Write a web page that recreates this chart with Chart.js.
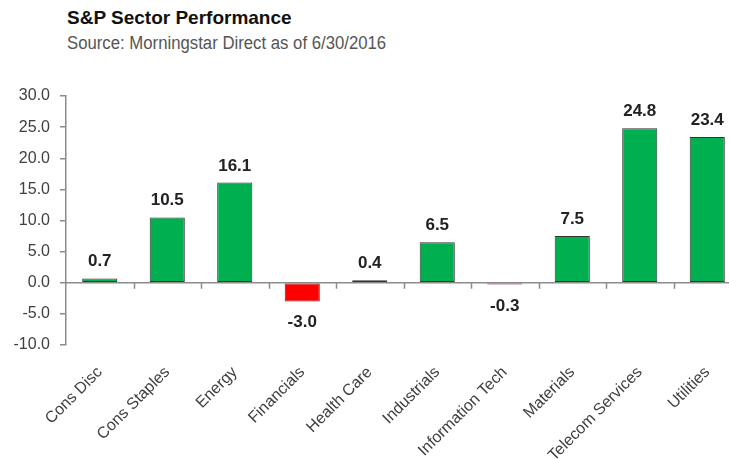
<!DOCTYPE html>
<html>
<head>
<meta charset="utf-8">
<script src="https://cdn.jsdelivr.net/npm/chart.js@4"></script>
<style>
  html, body { margin: 0; padding: 0; background: #fff; overflow: hidden; }
  #wrap { position: relative; width: 745px; height: 459px; }
  #title { position: absolute; left: 67px; top: 7px; font: bold 19px "Liberation Sans", Arial, sans-serif; color: #111; white-space: nowrap; }
  #subtitle { position: absolute; left: 67px; top: 33px; font: 18px "Liberation Sans", Arial, sans-serif; color: #555; white-space: nowrap; transform: scaleX(0.93); transform-origin: left top; }
  canvas { position: absolute; left: 0; top: 0; }
</style>
</head>
<body>
<div id="wrap">
  <div id="title">S&amp;P Sector Performance</div>
  <div id="subtitle">Source: Morningstar Direct as of 6/30/2016</div>
  <canvas id="grafico" width="745" height="459"></canvas>
</div>
<script>
const sectores = ['Cons Disc', 'Cons Staples', 'Energy', 'Financials', 'Health Care',
  'Industrials', 'Information Tech', 'Materials', 'Telecom Services', 'Utilities'];
const rendimiento = [0.7, 10.5, 16.1, -3.0, 0.4, 6.5, -0.3, 7.5, 24.8, 23.4];
const ejeMin = -10;
const ejeMax = 30;
const ejePaso = 5;

// linea del cero y marcas entre categorias
const lineaCero = {
  id: 'lineaCero',
  beforeDatasetsDraw(chart) {
    const { ctx, chartArea, scales } = chart;
    const y0 = scales.y.getPixelForValue(0);
    ctx.save();
    ctx.strokeStyle = '#8c8c8c';
    ctx.lineWidth = 1.5;
    ctx.beginPath();
    ctx.moveTo(chartArea.left, y0);
    ctx.lineTo(chartArea.right, y0);
    for (let i = 0; i < sectores.length - 1; i++) {
      const x = Math.round((scales.x.getPixelForValue(i) + scales.x.getPixelForValue(i + 1)) / 2) + 0.5;
      ctx.moveTo(x, y0);
      ctx.lineTo(x, y0 + 6);
    }
    ctx.stroke();
    ctx.restore();
  }
};

// etiquetas de valor sobre/bajo cada barra
const etiquetas = {
  id: 'etiquetas',
  afterDatasetsDraw(chart) {
    const { ctx } = chart;
    const meta = chart.getDatasetMeta(0);
    ctx.save();
    ctx.font = 'bold 17px "Liberation Sans", Arial, sans-serif';
    ctx.fillStyle = '#222';
    ctx.textAlign = 'center';
    ctx.textBaseline = 'alphabetic';
    meta.data.forEach((bar, i) => {
      const v = rendimiento[i];
      const txt = v.toFixed(1);
      if (v >= 0) {
        ctx.fillText(txt, bar.x, bar.y - 12);
      } else {
        ctx.fillText(txt, bar.x, bar.base + Math.max(bar.y - bar.base, 0) + 26);
      }
    });
    ctx.restore();
  }
};

const ctx = document.getElementById('grafico').getContext('2d');
new Chart(ctx, {
  type: 'bar',
  data: {
    labels: sectores,
    datasets: [{
      data: rendimiento,
      backgroundColor: rendimiento.map(v => v >= 0 ? '#00b050' : '#ff0000'),
      borderColor: rendimiento.map(v => v >= 0 ? '#333333' : '#7a1a1a'),
      borderWidth: 1,
      borderSkipped: false,
      barPercentage: 0.52,
      categoryPercentage: 1
    }]
  },
  options: {
    responsive: false,
    animation: false,
    layout: { padding: { top: 96, right: 4, left: 0, bottom: 0 } },
    plugins: {
      legend: { display: false },
      tooltip: { enabled: false }
    },
    scales: {
      x: {
        grid: { display: false },
        border: { display: false },
        ticks: {
          minRotation: 45,
          maxRotation: 45,
          padding: 10,
          color: '#404040',
          font: { family: '"Liberation Sans", Arial, sans-serif', size: 16 }
        },
        afterFit(scale) { scale.height = 114; }
      },
      y: {
        min: ejeMin,
        max: ejeMax,
        border: { display: true, color: '#8c8c8c', width: 1.5 },
        grid: { drawOnChartArea: false, tickLength: 6, color: '#8c8c8c', lineWidth: 1.5 },
        ticks: {
          stepSize: ejePaso,
          padding: 10,
          color: '#404040',
          font: { family: '"Liberation Sans", Arial, sans-serif', size: 16 },
          callback: v => v.toFixed(1)
        },
        afterFit(scale) { scale.width = 66; }
      }
    }
  },
  plugins: [lineaCero, etiquetas]
});
</script>
</body>
</html>
